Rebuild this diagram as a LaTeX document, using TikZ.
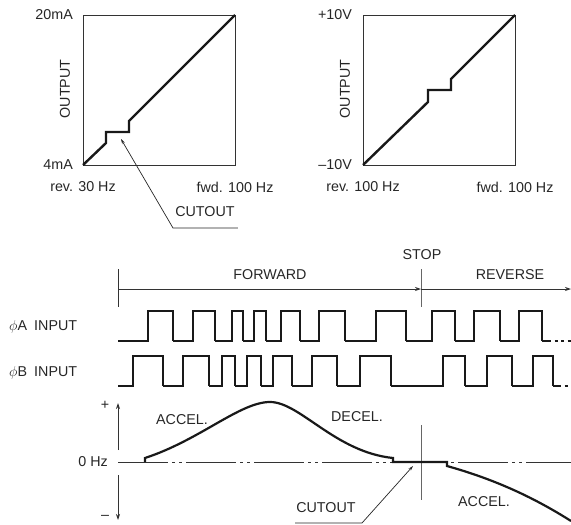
\documentclass[tikz,border=0pt]{standalone}
\usepackage{fontspec}
\setmainfont{Liberation Sans}
\usetikzlibrary{arrows.meta}

\begin{document}
\begin{tikzpicture}[x=1pt, y=-1pt,
  every node/.style={font=\fontsize{14.3}{16}\selectfont, text=black!85, inner sep=0pt},
  >={Stealth[length=6pt, width=4pt]},
  frame/.style={draw=black!80, line width=0.9pt},
  ramp/.style={black!90, line width=2.4pt},
  sig/.style={black!90, line width=1.7pt},
  curve/.style={black!90, line width=2.2pt},
  leader/.style={black!85, line width=0.7pt, -{Stealth[length=5pt, width=3pt]}},
  thin/.style={black!80, line width=0.8pt}]
  \useasboundingbox (0,0) rectangle (571,525);
  % current output
  \draw[frame] (83,15) rectangle (235,165);
  \draw[ramp] (83,165) -- (106,143) -- (106,132) -- (129,132) -- (129,121) -- (235,15);
  \node[anchor=east] (maxA) at (73,15) {20mA};
  \node[anchor=east] (minA) at (73,165) {4mA};
  \node[rotate=90] (outA) at (65,89) {OUTPUT};
  \node (revA) at (83,187) {rev. 30 Hz};
  \node (fwdA) at (235,187) {fwd. 100 Hz};
  \node (cutA) at (205,212) {CUTOUT};
  \coordinate (tipA) at (121,139); \coordinate (ulA) at (173,228);
  \draw[leader] ([xshift=3]cutA.east |- ulA) -- (ulA) -- (tipA);
  % voltage output
  \draw[frame] (363,15) rectangle (515,165);
  \draw[ramp] (363,165) -- (428,102) -- (428,90) -- (451,90) -- (451,79) -- (515,15);
  \node[anchor=east] (maxV) at (352,15) {+10V};
  \node[anchor=east] (minV) at (352,165) {--10V};
  \node[rotate=90] (outV) at (345,89) {OUTPUT};
  \node (revV) at (363,187) {rev. 100 Hz};
  \node (fwdV) at (515,187) {fwd. 100 Hz};
  % direction of rotation
  \coordinate (t0) at (118,289); \coordinate (ts) at (421,289); \coordinate (te) at (571,289);
  \draw[thin] (118,269) -- (118,307);
  \draw[thin, black!60] (421,269) -- (421,307);
  \draw[thin, ->] (t0) -- (ts);
  \draw[thin, ->] (ts) -- (te);
  \node (fwd) at (270,275) {FORWARD};
  \node (stop) at (422,255) {STOP};
  \node (rev) at (510,275) {REVERSE};
  % phase A and phase B pulses
  \node[anchor=west] (inA) at (9,327) {$\phi$A\enspace INPUT};
  \node[anchor=west] (inB) at (9,373) {$\phi$B\enspace INPUT};
  \foreach \r/\f [remember=\f as \a (initially 118)] in {148/173, 193/215, 232/243, 254/266, 281/300, 319/345, 376/406, 432/455, 474/500, 519/542}
    \draw[sig] (\a,341) -- (\r,341) -- (\r,311) -- (\f,311) -- (\f,341);
  \draw[sig] (542,341) -- (548,341);
  \draw[sig, dash pattern=on 3pt off 3.5pt] (548,341) -- (571,341);
  \foreach \r/\f [remember=\f as \a (initially 118)] in {133/163, 183/209, 222/235, 247/261, 273/292, 312/337, 360/391, 443/465, 487/512, 533/553}
    \draw[sig] (\a,386) -- (\r,386) -- (\r,356) -- (\f,356) -- (\f,386);
  \draw[sig] (553,386) -- (558,386);
  \draw[sig, dash pattern=on 3pt off 3.5pt] (558,386) -- (571,386);
  % frequency
  \draw[thin, ->] (118,450) -- (118,403);
  \draw[thin, ->] (118,475) -- (118,520);
  \node (plus) at (105,405) {+};
  \node (minus) at (105,517) {--};
  \node[anchor=east] (zero) at (108,462) {0 Hz};
  \draw[thin, dash pattern=on 50pt off 4pt on 3pt off 4pt on 3pt off 4pt] (118,462) -- (571,462);
  \draw[thin, black!60] (421,425) -- (421,500);
  \draw[curve] (145,462) -- (145,458) .. controls (200,440) and (240,402) .. (270,402)
    .. controls (300,402) and (335,452) .. (393,458) -- (393,462) -- (447,462) -- (447,466)
    .. controls (490,478) and (530,495) .. (571,521);
  \node (acc1) at (182,420) {ACCEL.};
  \node (dec) at (357,417) {DECEL.};
  \node (acc2) at (484,502) {ACCEL.};
  \node (cutF) at (326,508) {CUTOUT};
  \coordinate (tipF) at (413,466); \coordinate (ulF) at (362,523);
  \draw[leader] ([xshift=-1]cutF.west |- ulF) -- (ulF) -- (tipF);
\end{tikzpicture}
\end{document}
